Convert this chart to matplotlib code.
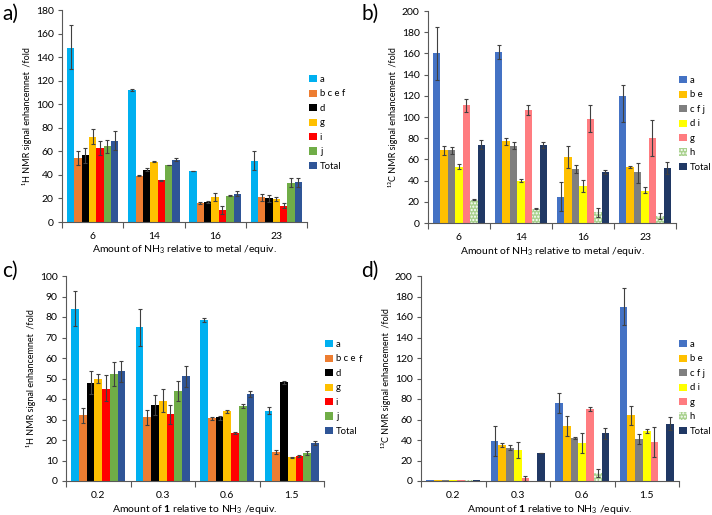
import numpy as np
import matplotlib
matplotlib.use("Agg")
import matplotlib.pyplot as plt

plt.rcParams['font.family'] = ['Lato', 'DejaVu Sans']
plt.rcParams['mathtext.fontset'] = 'custom'
plt.rcParams['mathtext.rm'] = 'Lato'
plt.rcParams['mathtext.bf'] = 'Lato:bold'
plt.rcParams['hatch.linewidth'] = 1.0

# ---------------- data ----------------
cats_ab = ['6', '14', '16', '23']
cats_cd = ['0.2', '0.3', '0.6', '1.5']

# panel a (1H, NH3/metal)
a_labels = ['a', 'b c e f', 'd', 'g', 'i', 'j', 'Total']
a_vals = [[148, 112, 43, 52], [54, 39, 16, 21], [57, 44.5, 17, 20], [72, 51, 21.5, 19.5],
          [63, 35.5, 10.5, 14], [64.5, 48, 22.5, 33], [69, 53, 24, 34]]
a_lo = [[130, 111.5, 43, 44], [48, 39, 15, 18], [50, 43.5, 16, 17], [66, 51, 18, 17.5],
        [57, 35, 7, 11.5], [59, 48, 22, 30], [61, 52, 22, 30]]
a_hi = [[167, 113, 43.5, 60], [60, 39.5, 17, 24], [63, 45.5, 18, 23], [79, 51.5, 25, 21.5],
        [69, 36, 14, 16], [70, 48.5, 23, 37], [77, 54, 26, 37]]

# panel b (13C, NH3/metal)
b_labels = ['a', 'b e', 'c f j', 'd i', 'g', 'h', 'Total']
b_vals = [[160, 161.5, 25, 120], [68.5, 77, 62, 52.5], [68.5, 72.5, 50.5, 48], [53, 40, 35, 30.5],
          [111, 106.5, 98.5, 80], [22, 13.5, 10, 6.5], [74, 73.5, 48, 52]]
b_lo = [[135, 155, 11, 95], [64, 74, 52, 51.5], [65.5, 69.5, 47, 38], [51, 38.5, 29, 28],
        [105, 102, 86, 63], [21.5, 13, 6, 4], [70, 70.5, 46.5, 46]]
b_hi = [[185, 168, 39, 130], [73, 80, 73, 53.5], [71.5, 76, 55, 57], [56, 41.5, 41, 33.5],
        [117, 111, 111, 97], [22.5, 14, 14, 9], [78, 76.5, 50, 58]]

# panel c (1H, 1/NH3)
c_labels = ['a', 'b c e', 'd', 'g', 'i', 'j', 'Total']
c_vals = [[84, 75, 78.5, 34], [32, 31, 30.5, 14], [48, 37, 31, 48.5], [50, 39, 34, 11.5],
          [45, 32.5, 23.5, 12], [52, 44, 36.5, 13.5], [53.5, 51, 42.5, 18.5]]
c_lo = [[75.5, 66, 77.5, 32.5], [28.5, 27.5, 30, 13], [42.5, 32, 30, 47.5], [48, 33.5, 33, 11],
        [39, 28, 23, 11.5], [46.5, 39, 35.5, 12.5], [48.5, 46, 41, 17.5]]
c_hi = [[92.5, 84, 79.5, 36], [35.5, 34.5, 31, 15], [53.5, 42, 31.5, 49], [52, 45, 34.5, 11.5],
        [51.5, 37, 24, 12.5], [58, 49, 37.5, 14.5], [58.5, 56, 44, 19.5]]

# panel d (13C, 1/NH3)
d_labels = ['a', 'b e', 'c f j', 'd i', 'g', 'h', 'Total']
d_vals = [[0.6, 39, 76, 170], [0.6, 35, 54, 64], [0.6, 32.5, 42, 41], [0.6, 30, 37, 49],
          [0.6, 2.5, 70, 38], [0.6, 0, 8, 0], [0.6, 27, 46.5, 56]]
d_lo = [[0.6, 24, 66, 152], [0.6, 33, 44, 55], [0.6, 30, 41, 36], [0.6, 22, 27, 47],
        [0.6, 0, 68, 23], [0.6, 0, 4, 0], [0.6, 27, 41, 50]]
d_hi = [[0.6, 54, 86, 188], [0.6, 37, 63, 73], [0.6, 35, 43, 46], [0.6, 38, 47, 51],
        [0.6, 5, 72, 53], [0.6, 0, 12, 0], [0.6, 27.5, 52, 62]]

col_H = ['#00B0F0', '#ED7D31', '#000000', '#FFC000', '#FF0000', '#70AD47', '#2F5597']
col_C = ['#4472C4', '#FFC000', '#7F7F7F', '#FFFF00', '#FF7C80', '#A9D18E', '#203864']
hatch_C = [None, None, None, None, None, '.....', None]
hatch_H = [None] * 7

W, H = 712, 515
fig = plt.figure(figsize=(W / 100, H / 100), dpi=100)


def px_axes(l, r, t, b):
    return fig.add_axes([l / W, 1 - b / H, (r - l) / W, (b - t) / H])


def panel(ax, cats, labels, vals, lo, hi, colors, hatches, ymax, ystep, ylabel, xlabel):
    n = len(labels)
    x = np.arange(len(cats))
    bw = 0.84 / n
    for i in range(n):
        v = np.array(vals[i], float)
        el = v - np.array(lo[i], float)
        eh = np.array(hi[i], float) - v
        xs = x - 0.42 + bw * (i + 0.5)
        has = [e1 > 0.05 or e2 > 0.05 for e1, e2 in zip(el, eh)]
        ax.bar(xs, v, width=bw, color=colors[i], hatch=hatches[i],
               edgecolor='white' if hatches[i] else colors[i], linewidth=0,
               label=labels[i], zorder=2)
        sel = np.array(has)
        if sel.any():
            ax.errorbar(xs[sel], v[sel], yerr=[el[sel], eh[sel]], fmt='none',
                        ecolor='#404040', elinewidth=0.8, capsize=1.6, capthick=0.8, zorder=3)
    ax.set_xlim(-0.5, len(cats) - 0.5)
    ax.set_ylim(0, ymax)
    ax.set_yticks(np.arange(0, ymax + 1, ystep))
    ax.set_xticks(x)
    ax.set_xticklabels(cats)
    ax.set_xticks(np.arange(-0.5, len(cats)), minor=True)
    ax.tick_params(axis='x', which='major', length=0, pad=7, labelsize=7.5)
    ax.tick_params(axis='x', which='minor', length=4, width=0.8, color='#595959')
    ax.tick_params(axis='y', length=3, width=0.8, color='#595959', labelsize=7.5, pad=3)
    for s in ['top', 'right']:
        ax.spines[s].set_visible(False)
    for s in ['left', 'bottom']:
        ax.spines[s].set_color('#595959')
        ax.spines[s].set_linewidth(0.8)
    ax.set_ylabel(ylabel, fontsize=6.5, labelpad=3)
    ax.set_xlabel(xlabel, fontsize=7.5, labelpad=2)


axA = px_axes(62, 307, 10, 222)
axB = px_axes(428, 676, 11, 223)
axC = px_axes(66, 324, 276, 481)
axD = px_axes(421, 679, 276, 481)

xl_ab = 'Amount of NH$_3$ relative to metal /equiv.'
xl_cd = r'Amount of $\mathbf{1}$ relative to NH$_3$ /equiv.'

panel(axA, cats_ab, a_labels, a_vals, a_lo, a_hi, col_H, hatch_H, 180, 20,
      '¹H NMR signal enhancemnet  /fold', xl_ab)
panel(axB, cats_ab, b_labels, b_vals, b_lo, b_hi, col_C, hatch_C, 200, 20,
      '¹³C NMR signal enhancement  /fold', xl_ab)
panel(axC, cats_cd, c_labels, c_vals, c_lo, c_hi, col_H, hatch_H, 100, 10,
      '¹H NMR signal enhancemnet  /fold', xl_cd)
panel(axD, cats_cd, d_labels, d_vals, d_lo, d_hi, col_C, hatch_C, 200, 20,
      '¹³C NMR signal enhancement  /fold', xl_cd)


def legend(ax, x, y):
    leg = ax.legend(loc='upper left', bbox_to_anchor=(x / W, 1 - y / H),
                    bbox_transform=fig.transFigure, frameon=False, fontsize=6.8,
                    handlelength=0.8, handleheight=0.8, handletextpad=0.35,
                    labelspacing=0.58, borderpad=0, borderaxespad=0)
    return leg


legend(axA, 309, 75)
legend(axB, 679, 76)
legend(axC, 325, 340)
legend(axD, 679, 340)

fig.text(359 / W, 1 - 359 / H, 'f', fontsize=6.8, va='center', ha='left')

for lbl, xx, yy in [('a)', 2, 14), ('b)', 361, 14), ('c)', 2, 271), ('d)', 361, 271)]:
    fig.text(xx / W, 1 - yy / H, lbl, fontsize=15, va='center', ha='left')

fig.savefig('out.png', dpi=100)
